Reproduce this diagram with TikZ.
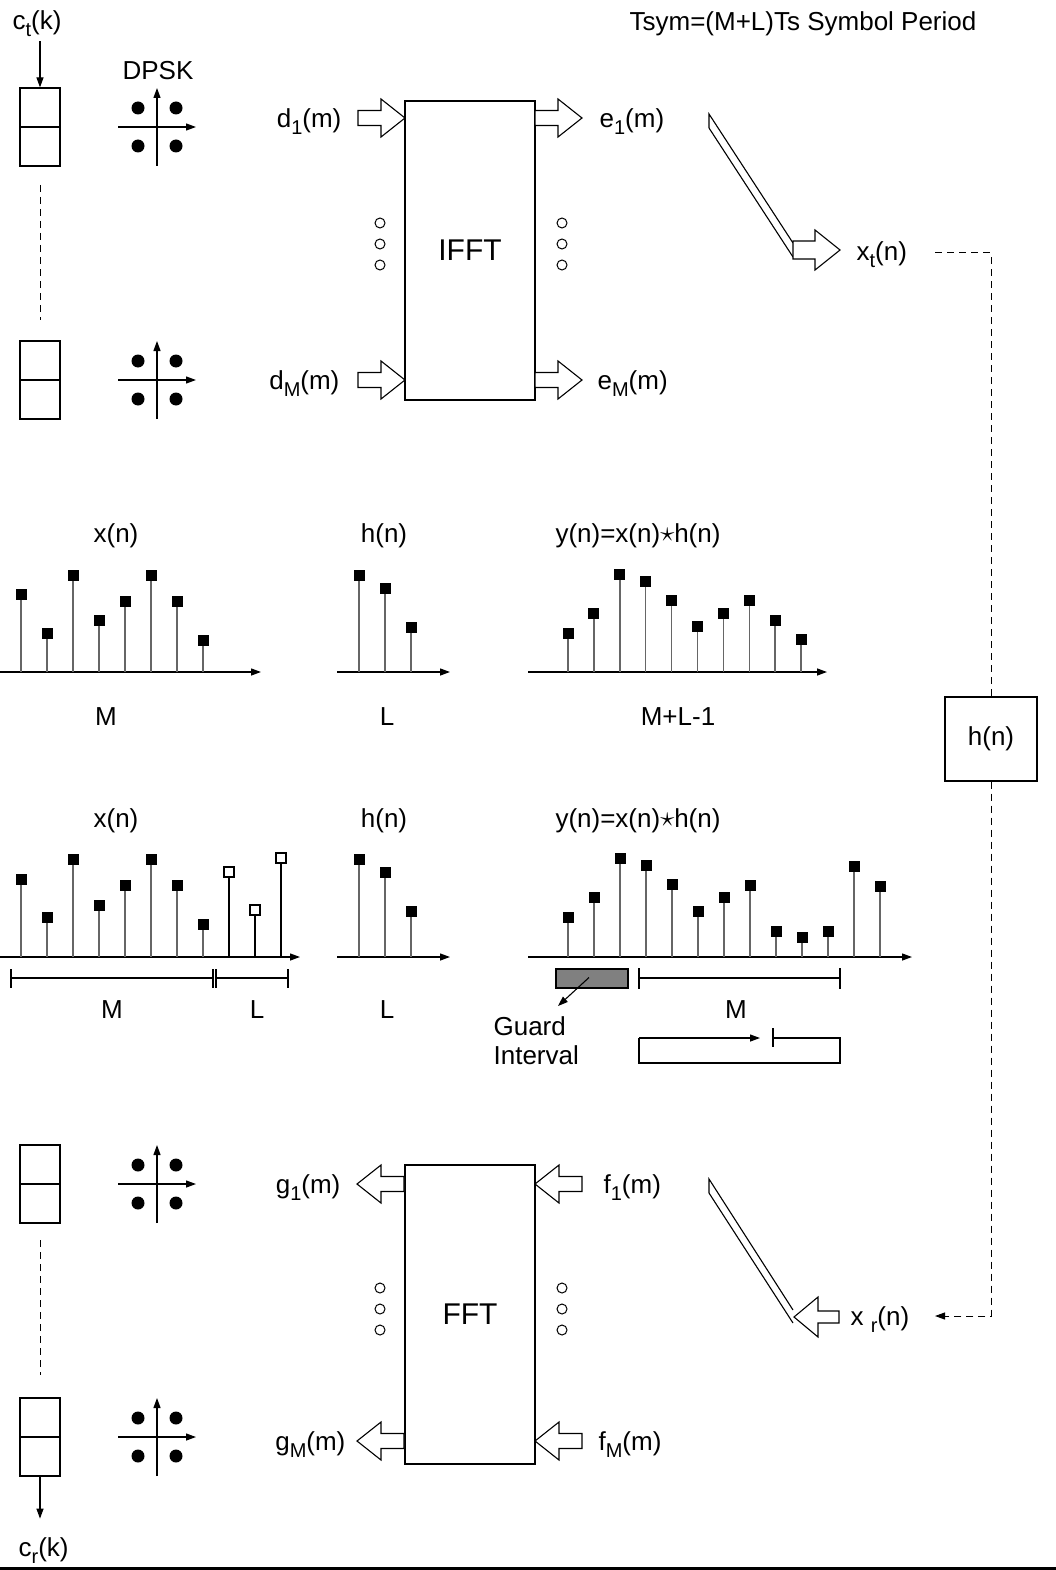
\documentclass[tikz,border=0pt]{standalone}
\usepackage{fontspec}
\setmainfont{Liberation Sans}
\usetikzlibrary{arrows.meta}
\newcommand{\lowsub}[1]{\raisebox{-7pt}{\fontsize{20}{20}\selectfont #1}}
\newcommand{\bigstar}{\raisebox{0.5pt}{\scalebox{1.15}{$\star$}}}
\newcommand{\stemplot}[4]{%
  \foreach \hh [count=\ii from 0] in {#4} {%
    \draw[stemln] ({#1+#2*\ii},#3) -- ({#1+#2*\ii},\hh);
    \fill ({#1+#2*\ii-5.5},{\hh-5.5}) rectangle ++(11,11);
  }}
\newcommand{\openstems}[4]{%
  \foreach \hh [count=\ii from 0] in {#4} {%
    \draw[line width=1.4pt] ({#1+#2*\ii},#3) -- ({#1+#2*\ii},\hh);
    \draw[line width=1.8pt, fill=white] ({#1+#2*\ii-5},{\hh-5}) rectangle ++(10,10);
  }}
\tikzset{
  barR/.pic={\draw[line width=1.1pt, fill=white, line join=miter] (0,0) -- (-24,-19) -- (-24,-7.5) -- (-47,-7.5) -- (-47,7.5) -- (-24,7.5) -- (-24,19) -- cycle;},
  barL/.pic={\draw[line width=1.1pt, fill=white, line join=miter] (0,0) -- (24,-19) -- (24,-7.5) -- (47,-7.5) -- (47,7.5) -- (24,7.5) -- (24,19) -- cycle;},
  constel/.pic={\draw[-{Triangle[length=10pt,width=7pt]}, line width=1.2pt] (-39,0) -- (39,0);
    \draw[-{Triangle[length=10pt,width=7pt]}, line width=1.2pt] (0,39) -- (0,-39);
    \foreach \a/\b in {-19/-19,19/-19,-19/19,19/19} \fill (\a,\b) circle (6.5);},
  ooo/.pic={\foreach \c in {-21,0,21} \draw[line width=1pt] (0,\c) circle (5);}
}
\begin{document}
\begin{tikzpicture}[x=1pt, y=-1pt, line width=1.2pt,
  lbl/.style={font=\fontsize{26}{30}\selectfont, inner sep=0pt, yshift=-2.5pt},
  tip/.style={-{Triangle[length=10pt,width=7pt]}},
  stemln/.style={draw=black!60, line width=1.5pt},
  stackbox/.style={draw, minimum width=40pt, minimum height=78pt, inner sep=0pt},
  dsh/.style={dash pattern=on 7pt off 5pt, line width=1pt},
  bigbox/.style={draw, minimum width=130pt, minimum height=299pt, inner sep=0pt, font=\fontsize{30}{34}\selectfont}]
\useasboundingbox (0,0) rectangle (1056,1570);

% ---------------- top: transmitter ----------------
\node[lbl, anchor=base west] (tsym) at (629,28) {Tsym=(M+L)Ts Symbol Period};
\node[lbl, anchor=base west] (ct) at (12,27) {c\lowsub{t}(k)};
\node[stackbox] (s1) at (40,127) {};
\draw (s1.west) -- (s1.east);
\draw[tip] ([yshift=46pt]s1.north) -- (s1.north);
\draw[dsh] (40,185) -- (40,320);
\node[stackbox] (s2) at (40,380) {};
\draw (s2.west) -- (s2.east);
\node[lbl] (dpsk) at (158,68) {DPSK};
\pic at (157,127) {constel};
\pic at (157,380) {constel};

\node[bigbox] (ifft) at (470,250.5) {IFFT};
\pic at (405,118) {barR};
\pic at (405,380) {barR};
\pic at (582,118) {barR};
\pic at (582,380) {barR};
\pic at (380,244) {ooo};
\pic at (562,244) {ooo};
\node[lbl, anchor=base east] (d1) at (342,125) {d\lowsub{1}(m)};
\node[lbl, anchor=base east] (dM) at (340,387) {d\lowsub{M}(m)};
\node[lbl, anchor=base west] (e1) at (599,125) {e\lowsub{1}(m)};
\node[lbl, anchor=base west] (eM) at (597,387) {e\lowsub{M}(m)};

% diagonal strip + block arrow to x_t(n)
\draw[line width=1.1pt] (709,128) -- (709,114) -- (793,243);
\draw[line width=1.1pt] (709,128) -- (793,257);
\draw[line width=1.1pt, fill=white, line join=miter] (793,241) -- (815,241) -- (815,230) -- (840,250) -- (815,270) -- (815,259) -- (793,259) -- cycle;
\node[lbl, anchor=base west] (xt) at (856,258) {x\lowsub{t}(n)};

% channel
\node[draw, minimum width=92pt, minimum height=84pt, inner sep=0pt, font=\fontsize{26}{30}\selectfont] (hbox) at (991,739) {h(n)};
\coordinate (xtend) at (935,253);
\coordinate (xrend) at (935,1316);
\draw[dsh] (xtend) -| (hbox.north);
\draw[dsh, -{Triangle[length=10pt,width=7pt]}] (hbox.south) |- (xrend);

% ---------------- linear convolution ----------------
\node[lbl] (xn1) at (116,533) {x(n)};
\node[lbl] (hn1) at (384,533) {h(n)};
\node[lbl] (yn1) at (638,533) {y(n)=x(n)\bigstar h(n)};
\draw[tip, line width=1.3pt] (0,672) -- (261,672);
\draw[tip, line width=1.3pt] (337,672) -- (450,672);
\draw[tip, line width=1.3pt] (528,672) -- (827,672);
\stemplot{21}{26}{672}{594,633,575,620,601,575,601,640}
\stemplot{359}{26}{672}{575,588,627}
\stemplot{568}{25.9}{672}{633,613,574,581,600,626,613,600,620,639}
\node[lbl] (m1) at (106,714) {M};
\node[lbl] (l1) at (387,714) {L};
\node[lbl] (ml1) at (678,714) {M+L-1};

% ---------------- with cyclic prefix ----------------
\node[lbl] (xn2) at (116,818) {x(n)};
\node[lbl] (hn2) at (384,818) {h(n)};
\node[lbl] (yn2) at (638,818) {y(n)=x(n)\bigstar h(n)};
\draw[tip, line width=1.3pt] (0,957) -- (300,957);
\draw[tip, line width=1.3pt] (337,957) -- (450,957);
\draw[tip, line width=1.3pt] (528,957) -- (912,957);
\stemplot{21}{26}{957}{879,917,859,905,885,859,885,924}
\openstems{229}{26}{957}{872,910,858}
\stemplot{359}{26}{957}{859,872,911}
\stemplot{568}{26}{957}{917,897,858,865,884,911,897,885,931,937,931,866,886}

\draw (11,978) -- (213,978);
\draw (216,978) -- (288,978);
\foreach \t in {11,213,216,288} \draw[line width=2pt] (\t,969) -- (\t,988);
\node[lbl] (m2) at (112,1007) {M};
\node[lbl] (l2) at (257,1007) {L};
\node[lbl] (l3) at (387,1007) {L};

\node[draw, fill=black!50, minimum width=72pt, minimum height=19pt, inner sep=0pt] (gi) at (592,978.5) {};
\coordinate (gtip) at (558,1006);
\draw[tip, line width=1.1pt] ([shift={(-3,-1)}]gi.center) -- (gtip);
\node[lbl, anchor=base west] (guard) at (493,1033) {Guard};
\node[lbl, anchor=base west] (interval) at (493,1062) {Interval};

\draw (639,978) -- (840,978);
\foreach \t in {639,840} \draw[line width=2pt] (\t,968) -- (\t,989);
\node[lbl] (m3) at (736,1007) {M};
\draw[tip] (639,1038) -- (760,1038);
\draw (773,1038) -- (840,1038) -- (840,1063) -- (639,1063) -- (639,1038);
\draw[line width=2pt] (773,1028) -- (773,1047);

% ---------------- bottom: receiver ----------------
\node[stackbox] (s3) at (40,1184) {};
\draw (s3.west) -- (s3.east);
\draw[dsh] (40,1240) -- (40,1375);
\node[stackbox] (s4) at (40,1437) {};
\draw (s4.west) -- (s4.east);
\draw[tip] (s4.south) -- ++(0,42);
\node[lbl, anchor=base west] (cr) at (18,1554) {c\lowsub{r}(k)};
\pic at (157,1184) {constel};
\pic at (157,1437) {constel};

\node[bigbox] (fft) at (470,1314.5) {FFT};
\pic at (357,1184) {barL};
\pic at (357,1441) {barL};
\pic at (535,1184) {barL};
\pic at (535,1441) {barL};
\pic at (380,1309) {ooo};
\pic at (562,1309) {ooo};
\node[lbl, anchor=base east] (g1) at (341,1191) {g\lowsub{1}(m)};
\node[lbl, anchor=base east] (gM) at (346,1448) {g\lowsub{M}(m)};
\node[lbl, anchor=base west] (f1) at (603,1191) {f\lowsub{1}(m)};
\node[lbl, anchor=base west] (fM) at (598,1448) {f\lowsub{M}(m)};

\draw[line width=1.1pt] (709,1193) -- (709,1179) -- (793,1310);
\draw[line width=1.1pt] (709,1193) -- (793,1323);
\draw[line width=1.1pt, fill=white, line join=miter] (794,1317) -- (818,1297) -- (818,1311) -- (839,1311) -- (839,1323) -- (818,1323) -- (818,1337) -- cycle;
\node[lbl, anchor=base west] (xr) at (850,1323) {x \lowsub{r}(n)};

\fill (0,1566.5) rectangle (1056,1570);
\end{tikzpicture}
\end{document}
